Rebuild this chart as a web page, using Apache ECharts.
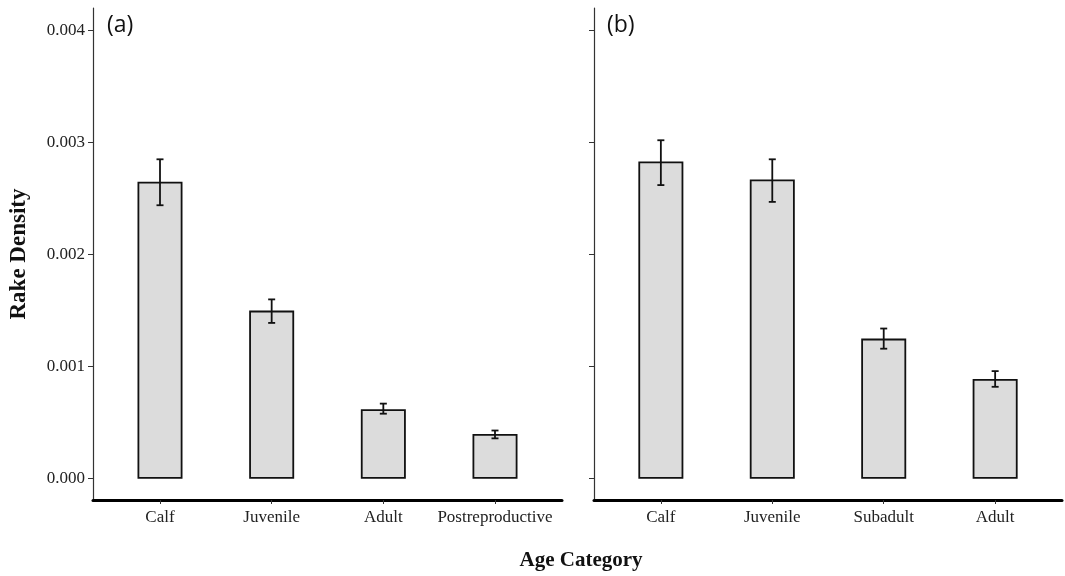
<!DOCTYPE html>
<html>
<head>
<meta charset="utf-8">
<script src="https://cdn.jsdelivr.net/npm/echarts@6/dist/echarts.min.js"></script>
<style>html,body{margin:0;padding:0;background:#fff;}#c{width:1065px;height:576px;}</style>
</head>
<body>
<div id="c"></div>
<script>
// Panel (a)
const catsA = ['Calf', 'Juvenile', 'Adult', 'Postreproductive'];
const meanA = [0.00265, 0.00150, 0.00062, 0.00040];
const lowA  = [0.00244, 0.00139, 0.00058, 0.00036];
const highA = [0.00285, 0.00160, 0.00067, 0.00043];
// Panel (b)
const catsB = ['Calf', 'Juvenile', 'Subadult', 'Adult'];
const meanB = [0.00283, 0.00267, 0.00125, 0.00089];
const lowB  = [0.00262, 0.00247, 0.00116, 0.00082];
const highB = [0.00302, 0.00285, 0.00134, 0.00096];
// Tick labels
const yTicks = [0, 0.001, 0.002, 0.003, 0.004];

const serif = '"Liberation Serif", "Times New Roman", serif';
const chart = echarts.init(document.getElementById('c'));

function xAxisFor(idx, cats) {
  return {
    type: 'value', gridIndex: idx, min: 0.4, max: cats.length + 0.6,
    splitLine: { show: false },
    axisLine: { show: true, onZero: false, lineStyle: { color: '#000', width: 3 } },
    axisTick: { show: true, length: 4, customValues: cats.map((c, i) => i + 1), lineStyle: { color: '#333', width: 1 } },
    axisLabel: { show: true, customValues: cats.map((c, i) => i + 1), formatter: v => cats[Math.round(v) - 1] || '',
      fontFamily: serif, fontSize: 17, color: '#222', margin: 9 }
  };
}
function yAxisFor(idx, showLabels) {
  return {
    type: 'value', gridIndex: idx, min: -0.00019, max: 0.0042,
    splitLine: { show: false },
    axisLine: { show: true, onZero: false, lineStyle: { color: '#333', width: 1.2 } },
    axisTick: { show: true, length: 5, customValues: yTicks, lineStyle: { color: '#333', width: 1 } },
    axisLabel: { show: showLabels, customValues: yTicks, formatter: v => v.toFixed(3),
      fontFamily: serif, fontSize: 17, color: '#222', margin: 8 }
  };
}
function barSeries(idx, mean) {
  return {
    type: 'bar', xAxisIndex: idx, yAxisIndex: idx,
    data: mean.map((v, i) => [i + 1, v]),
    barWidth: 45,
    itemStyle: { color: '#dcdcdc', borderColor: '#111', borderWidth: 1.8 },
    silent: true
  };
}
function errSeries(idx, low, high) {
  return {
    type: 'custom', xAxisIndex: idx, yAxisIndex: idx,
    data: low.map((l, i) => [i + 1, l, high[i]]),
    renderItem: function (params, api) {
      const x = api.value(0);
      const p1 = api.coord([x, api.value(1)]);
      const p2 = api.coord([x, api.value(2)]);
      const hw = 3.5;
      const st = { stroke: '#111', lineWidth: 1.8 };
      return { type: 'group', children: [
        { type: 'line', shape: { x1: p1[0], y1: p1[1], x2: p2[0], y2: p2[1] }, style: st },
        { type: 'line', shape: { x1: p1[0] - hw, y1: p1[1], x2: p1[0] + hw, y2: p1[1] }, style: st },
        { type: 'line', shape: { x1: p2[0] - hw, y1: p2[1], x2: p2[0] + hw, y2: p2[1] }, style: st }
      ]};
    },
    z: 5, silent: true
  };
}

chart.setOption({
  animation: false,
  backgroundColor: '#fff',
  grid: [
    { left: 93, right: 503, top: 8, bottom: 76 },
    { left: 594, right: 3, top: 8, bottom: 76 }
  ],
  xAxis: [xAxisFor(0, catsA), xAxisFor(1, catsB)],
  yAxis: [yAxisFor(0, true), yAxisFor(1, false)],
  series: [barSeries(0, meanA), errSeries(0, lowA, highA), barSeries(1, meanB), errSeries(1, lowB, highB)],
  graphic: [
    { type: 'text', left: 107, top: 14, style: { text: '(a)', font: '23px "Open Sans", "Noto Sans", sans-serif', fill: '#111' } },
    { type: 'text', left: 607, top: 14, style: { text: '(b)', font: '23px "Open Sans", "Noto Sans", sans-serif', fill: '#111' } },
    { type: 'text', x: 581, y: 561, style: { text: 'Age Category', font: 'bold 21px ' + serif, fill: '#111', align: 'center', verticalAlign: 'middle' } },
    { type: 'text', x: 19, y: 254, rotation: Math.PI / 2, style: { text: 'Rake Density', font: 'bold 23px ' + serif, fill: '#111', align: 'center', verticalAlign: 'middle' } }
  ]
});
</script>
</body>
</html>
